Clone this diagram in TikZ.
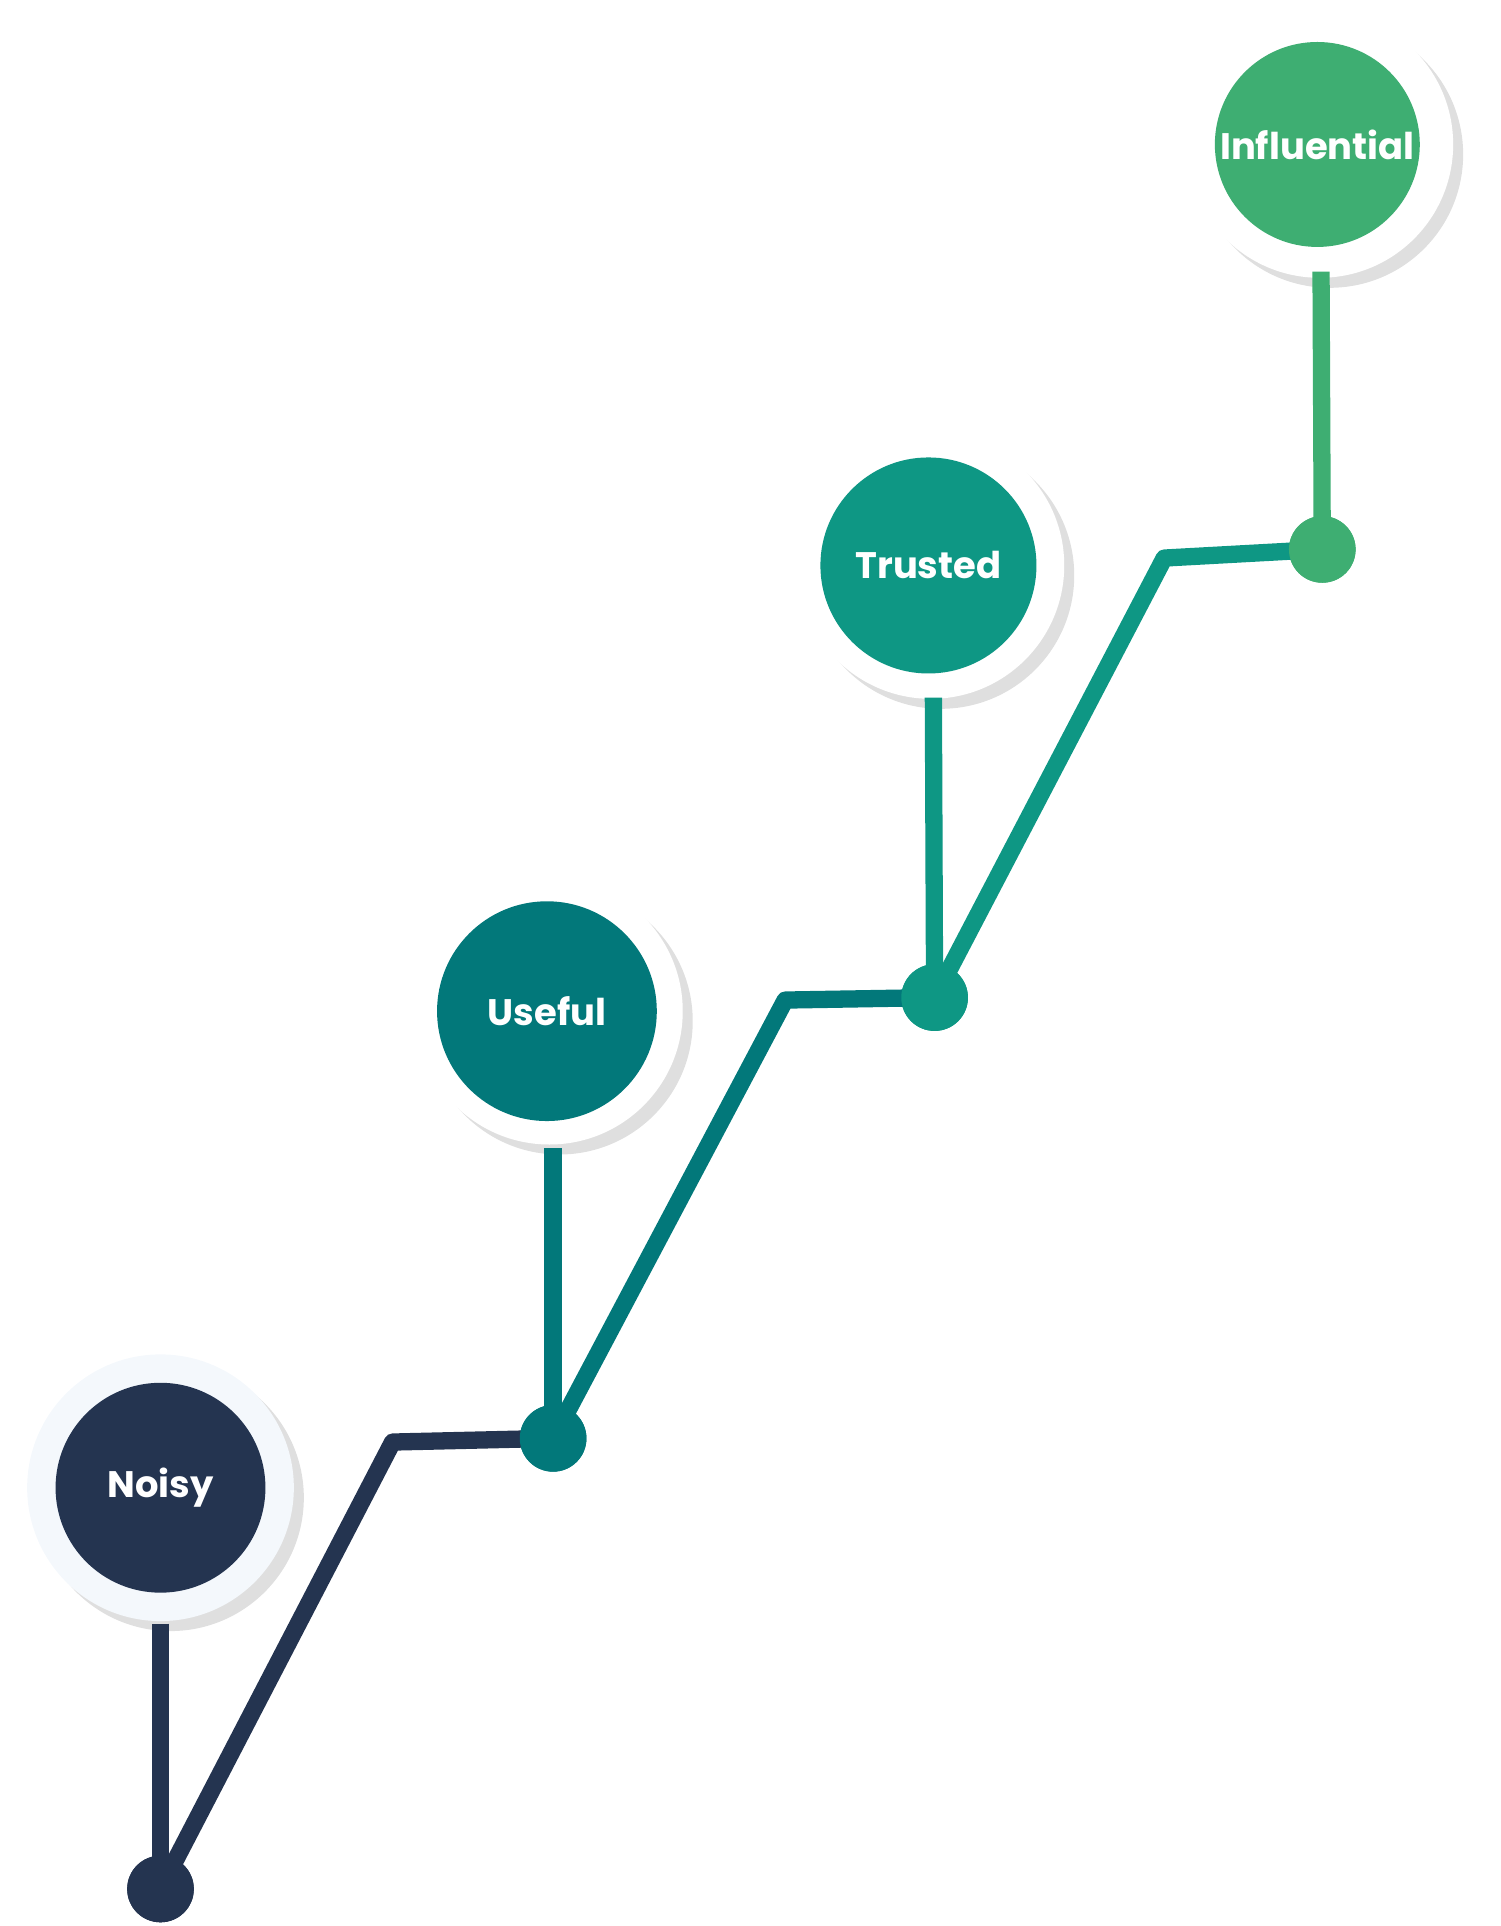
\documentclass[tikz,border=0pt]{standalone}
\usepackage{fontspec}
\setmainfont{Poppins}
\usetikzlibrary{shadows}
\definecolor{cnoisy}{HTML}{243450}
\definecolor{cuseful}{HTML}{02787A}
\definecolor{ctrust}{HTML}{0E9784}
\definecolor{cinfl}{HTML}{3EAE72}
\definecolor{halo}{HTML}{F4F8FC}
\tikzset{
  halo/.style={circle, fill=#1, minimum size=216*0.012346cm, inner sep=0pt,
    drop shadow={shadow xshift=0.1cm, shadow yshift=-0.1cm, opacity=0.25, fill=gray}},
  stage/.style={circle, fill=#1, minimum size=172*0.012346cm, inner sep=0pt,
    text=white, font=\bfseries\fontsize{10.5}{12}\selectfont},
  dot/.style={circle, fill=#1, minimum size=54*0.012346cm, inner sep=0pt},
  conn/.style={line width=14*0.012346cm, draw=#1, line join=round},
}
\begin{document}
\begin{tikzpicture}[x=0.012346cm, y=-0.012346cm]
\useasboundingbox (0,0) rectangle (1215,1560);
% halos
\node[halo=halo] (hn) at (130,1205) {};
\node[halo=white] (hu) at (445,819) {};
\node[halo=white] (ht) at (754,458) {};
\node[halo=white] (hi) at (1069,117) {};
% lines
\coordinate (b1) at (318,1168);
\coordinate (b2) at (636,810);
\coordinate (b3) at (943,452);
\node[dot=cnoisy] (dn) at (130,1530) {};
\node[dot=cuseful] (du) at (448,1165) {};
\node[dot=ctrust] (dt) at (757,808) {};
\node[dot=cinfl] (di) at (1071,445) {};
\draw[conn=cnoisy] (dn.center) ++(0,0) (130,1315) -- (dn.center);
\draw[conn=cnoisy] (dn.center) -- (b1) -- (du.center);
\draw[conn=cuseful] (448,930) -- (du.center);
\draw[conn=cuseful] (du.center) -- (b2) -- (dt.center);
\draw[conn=ctrust] (756,565) -- (dt.center);
\draw[conn=ctrust] (dt.center) -- (b3) -- (di.center);
\draw[conn=cinfl] (1070,220) -- (di.center);
\node[dot=cnoisy] at (dn) {};
\node[dot=cuseful] at (du) {};
\node[dot=ctrust] at (dt) {};
\node[dot=cinfl] at (di) {};
% stages
\node[stage=cnoisy, minimum size=170*0.012346cm] (noisy) at (130,1205) {Noisy};
\node[stage=cuseful, minimum size=178*0.012346cm] (useful) at (443,819) {Useful};
\node[stage=ctrust, minimum size=175*0.012346cm] (trusted) at (752,458) {Trusted};
\node[stage=cinfl, minimum size=166*0.012346cm] (infl) at (1067,117) {Influential};
\end{tikzpicture}
\end{document}
